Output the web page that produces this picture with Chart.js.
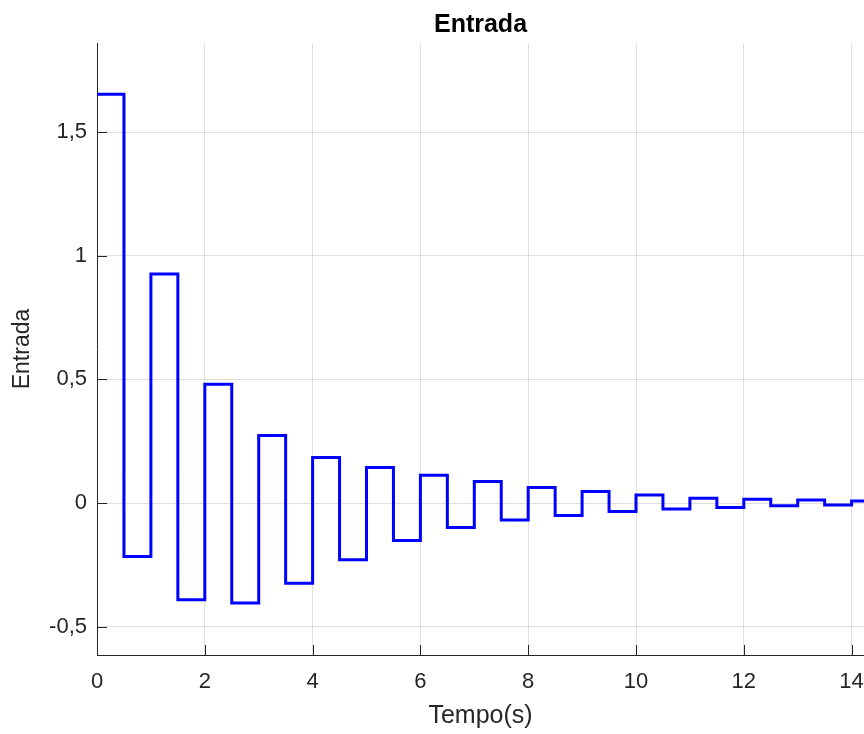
<!DOCTYPE html>
<html>
<head>
<meta charset="utf-8">
<script src="https://cdn.jsdelivr.net/npm/chart.js@4/dist/chart.umd.min.js"></script>
<style>
  html, body { margin: 0; padding: 0; background: #ffffff; }
  #c { display: block; }
</style>
</head>
<body>
<canvas id="c" width="864" height="734"></canvas>
<script>
// Sample instants (s) of the zero-order-hold input signal
const times = [0, 0.5, 1, 1.5, 2, 2.5, 3, 3.5, 4, 4.5, 5, 5.5, 6, 6.5, 7, 7.5,
               8, 8.5, 9, 9.5, 10, 10.5, 11, 11.5, 12, 12.5, 13, 13.5, 14];
// Held values (Entrada)
const entrada = [1.653, -0.216, 0.926, -0.391, 0.481, -0.404, 0.273, -0.324,
                 0.184, -0.229, 0.144, -0.151, 0.113, -0.099, 0.087, -0.068,
                 0.063, -0.050, 0.047, -0.034, 0.033, -0.024, 0.020, -0.018,
                 0.016, -0.011, 0.013, -0.008, 0.009];
// last held value extends to this time (beyond visible range)
const holdUntil = 15;

const xTickValues = [0, 2, 4, 6, 8, 10, 12, 14];
const xTickLabels = ['0', '2', '4', '6', '8', '10', '12', '14'];
const yTickValues = [-0.5, 0, 0.5, 1, 1.5];
const yTickLabels = ['-0,5', '0', '0,5', '1', '1,5'];

const xRange = [0, 14.23];
const yRange = [-0.614, 1.86];

const points = times.map((t, i) => ({ x: t, y: entrada[i] }));
points.push({ x: holdUntil, y: entrada[entrada.length - 1] });

const axisColor = '#262626';
const gridColor = 'rgba(38,38,38,0.15)';
const FONT = "'Liberation Sans', Arial, Helvetica, sans-serif";

const inwardTicks = {
  id: 'inwardTicks',
  afterDraw(chart) {
    const ctx = chart.ctx;
    const xs = chart.scales.x, ys = chart.scales.y;
    const area = chart.chartArea;
    ctx.save();
    ctx.strokeStyle = axisColor;
    ctx.lineWidth = 1;
    ctx.beginPath();
    xs.ticks.forEach(t => {
      const px = Math.round(xs.getPixelForValue(t.value)) + 0.5;
      if (px < area.left - 1 || px > area.right + 1) return;
      ctx.moveTo(px, area.bottom);
      ctx.lineTo(px, area.bottom - 10);
    });
    ys.ticks.forEach(t => {
      const py = Math.round(ys.getPixelForValue(t.value)) + 0.5;
      ctx.moveTo(area.left, py);
      ctx.lineTo(area.left + 10, py);
    });
    ctx.stroke();
    ctx.restore();
  }
};

new Chart(document.getElementById('c'), {
  type: 'line',
  data: {
    datasets: [{
      label: 'Entrada',
      data: points,
      stepped: true,
      borderColor: '#0000ff',
      borderWidth: 3,
      pointRadius: 0,
      fill: false,
      borderJoinStyle: 'miter'
    }]
  },
  options: {
    responsive: false,
    animation: false,
    layout: { padding: 0 },
    plugins: {
      legend: { display: false },
      tooltip: { enabled: false },
      title: {
        display: true,
        text: 'Entrada',
        fullSize: false,
        color: '#000000',
        font: { family: FONT, size: 25, weight: 'bold', lineHeight: 1.2 },
        padding: { top: 10.5, bottom: 2.5 }
      }
    },
    scales: {
      x: {
        type: 'linear',
        min: xRange[0],
        max: xRange[1],
        afterBuildTicks(scale) {
          scale.ticks = xTickValues.map(v => ({ value: v }));
        },
        afterFit(scale) {
          scale.height = 79;
          scale.paddingLeft = 0;
          scale.paddingRight = 0;
        },
        ticks: {
          color: axisColor,
          font: { family: FONT, size: 22 },
          padding: 14,
          maxRotation: 0,
          autoSkip: false,
          callback(value) {
            const i = xTickValues.indexOf(value);
            return i >= 0 ? xTickLabels[i] : '';
          }
        },
        grid: { color: gridColor, lineWidth: 1, drawTicks: false },
        border: { display: true, color: axisColor, width: 1 },
        title: {
          display: true,
          text: 'Tempo(s)',
          color: axisColor,
          font: { family: FONT, size: 25 },
          padding: { top: 0, bottom: 3 }
        }
      },
      y: {
        type: 'linear',
        min: yRange[0],
        max: yRange[1],
        afterBuildTicks(scale) {
          scale.ticks = yTickValues.map(v => ({ value: v }));
        },
        afterFit(scale) {
          scale.width = 97;
          scale.paddingTop = 0;
          scale.paddingBottom = 0;
        },
        ticks: {
          color: axisColor,
          font: { family: FONT, size: 22 },
          padding: 10,
          autoSkip: false,
          callback(value) {
            const i = yTickValues.indexOf(value);
            return i >= 0 ? yTickLabels[i] : '';
          }
        },
        grid: { color: gridColor, lineWidth: 1, drawTicks: false },
        border: { display: true, color: axisColor, width: 1 },
        title: {
          display: true,
          text: 'Entrada',
          color: axisColor,
          font: { family: FONT, size: 23 },
          padding: { top: 9, bottom: 0 }
        }
      }
    }
  },
  plugins: [inwardTicks]
});
</script>
</body>
</html>
